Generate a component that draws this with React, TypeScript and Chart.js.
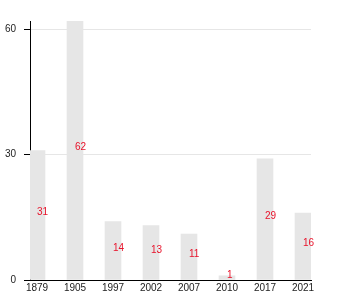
import React, { useEffect, useRef } from "react";
import { Chart, registerables } from "chart.js";

Chart.register(...registerables);

const years = ["1879", "1905", "1997", "2002", "2007", "2010", "2017", "2021"];
const counts = [31, 62, 14, 13, 11, 1, 29, 16];

const FONT = "'Liberation Sans', Arial, Helvetica, sans-serif";

export default function App() {
  const ref = useRef<HTMLCanvasElement>(null);

  useEffect(() => {
    document.body.style.margin = "0";
    const labelPlugin = {
      id: "valueLabels",
      afterDatasetsDraw(chart: any) {
        const ctx = chart.ctx;
        const meta = chart.getDatasetMeta(0);
        ctx.save();
        ctx.fillStyle = "#e8132b";
        ctx.font = `10px ${FONT}`;
        ctx.textAlign = "left";
        ctx.textBaseline = "alphabetic";
        meta.data.forEach((bar: any, i: number) => {
          const { x, y, base } = bar.getProps(["x", "y", "base"], true);
          ctx.fillText(String(counts[i]), x, (y + base) / 2);
        });
        ctx.restore();
      },
    };

    const xMin = -7 / 38;
    const xMax = xMin + 281 / 38;

    const chart = new Chart(ref.current as HTMLCanvasElement, {
      type: "bar",
      data: {
        datasets: [
          {
            data: counts.map((c, i) => ({ x: i, y: c })),
            backgroundColor: "#e6e6e6",
            barThickness: 16,
            clip: 0,
          } as any,
        ],
      },
      options: {
        responsive: false,
        animation: false,
        layout: { padding: { top: 21, right: 39, left: 0, bottom: 0 } },
        plugins: { legend: { display: false }, tooltip: { enabled: false } },
        scales: {
          x: {
            type: "linear",
            offset: false,
            min: xMin,
            max: xMax,
            grid: { display: false, drawTicks: false },
            border: { display: true, color: "#000" },
            ticks: {
              stepSize: 1,
              includeBounds: false,
              autoSkip: false,
              maxRotation: 0,
              padding: 2,
              color: "#222",
              font: { family: FONT, size: 10 },
              callback: (v: any) => (years[v as number] ?? ""),
            },
            afterFit: (s: any) => {
              s.height = 20;
            },
          } as any,
          y: {
            min: 0,
            max: 62,
            grid: { color: "#e6e6e6", tickColor: "#000", tickLength: 6 },
            border: { color: "#000" },
            ticks: {
              stepSize: 30,
              includeBounds: false,
              padding: 8,
              color: "#222",
              font: { family: FONT, size: 10 },
            },
            afterFit: (s: any) => {
              s.width = 30;
            },
          } as any,
        },
      },
      plugins: [labelPlugin],
    });
    return () => chart.destroy();
  }, []);

  return (
    <div style={{ position: "absolute", left: 0, top: 0, width: 350, height: 300 }}>
      <canvas ref={ref} width={350} height={300} />
    </div>
  );
}
